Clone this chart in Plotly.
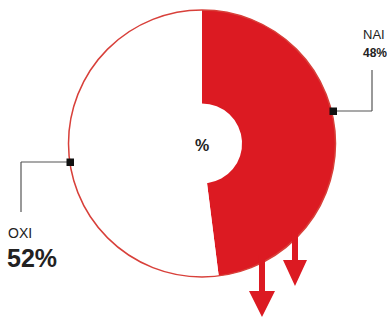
import plotly.graph_objects as go

# ---- data ----
labels = ["NAI", "OXI"]
values = [48, 52]
colors = ["#dc1a22", "#ffffff"]
center_text = "%"

W, H = 387, 317
RED = "#dc1a22"

def px(x):
    return x / W

def py(y):
    return 1 - y / H

cx, cy, r = 202, 143.5, 133.5

fig = go.Figure()
fig.add_trace(go.Pie(
    labels=labels, values=values, sort=False, direction="clockwise", rotation=0,
    hole=0.3, textinfo="none", hoverinfo="label+percent", showlegend=False,
    marker=dict(colors=colors, line=dict(width=0)),
    domain=dict(x=[px(cx - r), px(cx + r)], y=[py(cy + r), py(cy - r)]),
))

shapes = []
# outer outline of the ring
shapes.append(dict(type="circle", xref="paper", yref="paper",
                   x0=px(cx - r), x1=px(cx + r), y0=py(cy + r), y1=py(cy - r),
                   line=dict(color="#d8403a", width=1.5), fillcolor="rgba(0,0,0,0)", layer="above"))

LINE = dict(color="#555555", width=1.2)
# NAI leader
shapes.append(dict(type="line", xref="paper", yref="paper", x0=px(333), y0=py(111), x1=px(372), y1=py(111), line=LINE))
shapes.append(dict(type="line", xref="paper", yref="paper", x0=px(372), y0=py(111), x1=px(372), y1=py(70), line=LINE))
shapes.append(dict(type="rect", xref="paper", yref="paper", x0=px(329.5), x1=px(337), y0=py(107.5), y1=py(115),
                   line=dict(width=0), fillcolor="#111111"))
# OXI leader
shapes.append(dict(type="line", xref="paper", yref="paper", x0=px(70), y0=py(162), x1=px(21), y1=py(162), line=LINE))
shapes.append(dict(type="line", xref="paper", yref="paper", x0=px(21), y0=py(162), x1=px(21), y1=py(212), line=LINE))
shapes.append(dict(type="rect", xref="paper", yref="paper", x0=px(66.5), x1=px(74), y0=py(158.5), y1=py(166),
                   line=dict(width=0), fillcolor="#111111"))

# decorative down arrows
def arrow(x, y_top, y_head, y_tip, half_head, half_shaft):
    pts = [(x - half_shaft, y_top), (x + half_shaft, y_top), (x + half_shaft, y_head),
           (x + half_head, y_head), (x, y_tip), (x - half_head, y_head), (x - half_shaft, y_head)]
    d = "M " + " L ".join(f"{px(a):.5f},{py(b):.5f}" for a, b in pts) + " Z"
    return dict(type="path", xref="paper", yref="paper", path=d, fillcolor=RED, line=dict(width=0))

shapes.append(arrow(262, 255, 291, 317, 13, 3))
shapes.append(arrow(295, 232, 260, 286, 12, 3))

annotations = [
    dict(text="<b>%</b>", x=px(202), y=py(145), xref="paper", yref="paper", showarrow=False,
         font=dict(family="Liberation Sans", size=16, color="#222222"), xanchor="center", yanchor="middle"),
    dict(text="NAI", x=px(361), y=py(35), xref="paper", yref="paper", showarrow=False,
         font=dict(family="Liberation Sans", size=13, color="#222222"), xanchor="left", yanchor="middle"),
    dict(text="<b>48%</b>", x=px(361), y=py(53), xref="paper", yref="paper", showarrow=False,
         font=dict(family="Liberation Sans", size=12, color="#222222"), xanchor="left", yanchor="middle"),
    dict(text="OXI", x=px(6), y=py(233), xref="paper", yref="paper", showarrow=False,
         font=dict(family="Liberation Sans", size=14, color="#222222"), xanchor="left", yanchor="middle"),
    dict(text="<b>52%</b>", x=px(5), y=py(257.5), xref="paper", yref="paper", showarrow=False,
         font=dict(family="Liberation Sans", size=25, color="#222222"), xanchor="left", yanchor="middle"),
]

fig.update_layout(
    width=W, height=H, margin=dict(l=0, r=0, t=0, b=0),
    paper_bgcolor="white", plot_bgcolor="white",
    shapes=shapes, annotations=annotations,
)

fig.write_html("out.html", config={"displayModeBar": False},
               post_script="document.body.style.margin='0';document.body.style.overflow='hidden';")
